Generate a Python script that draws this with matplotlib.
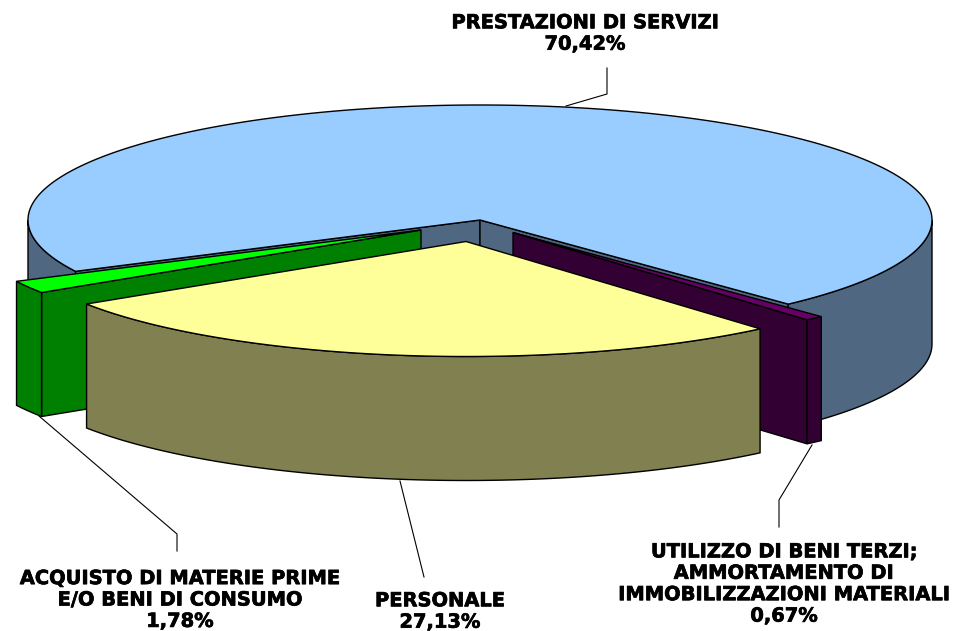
"""Exploded 3D pie of cost shares, drawn with polygons"""

import matplotlib
matplotlib.use("Agg")
import matplotlib.patheffects as pe
import matplotlib.pyplot as plt
import numpy as np
from matplotlib.patches import Polygon

names = [
    "UTILIZZO DI BENI TERZI;\nAMMORTAMENTO DI\nIMMOBILIZZAZIONI MATERIALI",
    "PERSONALE",
    "ACQUISTO DI MATERIE PRIME\nE/O BENI DI CONSUMO",
    "PRESTAZIONI DI SERVIZI",
]
shares = [0.67, 27.13, 1.78, 70.42]
top_colors = ["#660066", "#FFFF99", "#00FF00", "#99CCFF"]
wall_colors = ["#330033", "#808050", "#008000", "#4F6780"]

# pie geometry in pixels, angles go clockwise on screen
RX, RY, DEPTH = 452, 115, 124
START = 47
APEX = [(513, 232.5), (466, 241.5), (421, 230), (480, 220)]
LW = 1.0


def arc(center, t0, t1):
    t = np.radians(np.linspace(t0, t1, max(int(abs(t1 - t0) * 2), 2)))
    return np.column_stack([center[0] + RX * np.cos(t), center[1] + RY * np.sin(t)])


def draw_slice(ax, center, t0, t1, top, wall, radial_walls):
    drop = np.array([0, DEPTH])
    # straight walls along the two cut edges
    for t in radial_walls:
        outer = arc(center, t, t + 0.01)[0]
        pts = [center, outer, outer + drop, np.array(center) + drop]
        ax.add_patch(Polygon(pts, fc=wall, ec="black", lw=LW))
    # outer curved wall, only the part facing the viewer
    for a, b in [(t0, t1), (t0 - 360, t1 - 360)]:
        a, b = max(a, 0), min(b, 180)
        if b > a:
            rim = arc(center, a, b)
            pts = np.vstack([rim, rim[::-1] + drop])
            ax.add_patch(Polygon(pts, fc=wall, ec="black", lw=LW))
    pts = np.vstack([[center], arc(center, t0, t1)])
    ax.add_patch(Polygon(pts, fc=top, ec="black", lw=LW))


fig = plt.figure(figsize=(9.58, 6.31), dpi=100)
ax = fig.add_axes([0, 0, 1, 1])
ax.set_xlim(0, 958)
ax.set_ylim(631, 0)
ax.axis("off")

sweeps = np.array(shares) / sum(shares) * 360
stops = START + np.concatenate([[0], np.cumsum(sweeps)])

# leader lines go under the pie
for xs, ys in [
    ([607, 607, 566], [68, 94, 106]),
    ([779, 779, 812], [527, 500, 445]),
    ([424, 400], [577, 481]),
    ([177, 177, 39], [551, 534, 416]),
]:
    ax.plot(xs, ys, color="black", lw=0.8, zorder=0)

# back to front: blue first, the exploded slices after it, yellow last
draw_slice(ax, APEX[3], stops[3], stops[4], top_colors[3], wall_colors[3], [stops[3], stops[4] - 360])
draw_slice(ax, APEX[0], stops[0], stops[1], top_colors[0], wall_colors[0], [stops[1]])
draw_slice(ax, APEX[2], stops[2], stops[3], top_colors[2], wall_colors[2], [stops[2]])
draw_slice(ax, APEX[1], stops[1], stops[2], top_colors[1], wall_colors[1], [])

label_pos = [(784, 584), (440, 611.5), (180, 600), (585, 33.5)]
for name, share, (x, y) in zip(names, shares, label_pos):
    pct = f"{share:.2f}".replace(".", ",") + "%"
    ax.text(x, y, f"{name}\n{pct}", ha="center", va="center", fontsize=14,
            fontweight="bold", family="DejaVu Sans", linespacing=1.16, color="black",
            path_effects=[pe.withStroke(linewidth=0.5, foreground="black")])

fig.savefig("out.png", dpi=100)
